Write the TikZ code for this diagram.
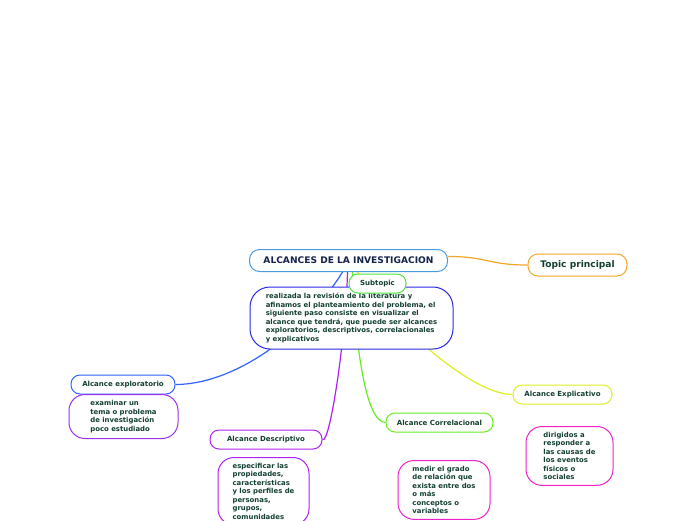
\documentclass[tikz,border=0pt]{standalone}
\usepackage{fontspec}
\setmainfont{DejaVu Sans}
\usetikzlibrary{backgrounds}
\definecolor{cink}{HTML}{123F33}
\definecolor{cnavy}{HTML}{14234A}
\definecolor{croot}{HTML}{4A9BE0}
\definecolor{corange}{HTML}{F5A52A}
\definecolor{cgreen}{HTML}{4CE63A}
\definecolor{cblue}{HTML}{2828E8}
\definecolor{cbranch}{HTML}{2F62FF}
\definecolor{cpurple}{HTML}{9B30F0}
\definecolor{cviolet}{HTML}{B020F0}
\definecolor{clime}{HTML}{66EE22}
\definecolor{cyellow}{HTML}{DDEE22}
\definecolor{cpink}{HTML}{EE22CC}
\tikzset{
  every picture/.style={line width=1pt},
  topicbox/.style={draw=#1, fill=white, rounded corners=10pt, text=cink, font=\bfseries\fontsize{9.1}{10}\selectfont, minimum height=22pt, inner sep=0pt},
  branch/.style={draw=#1, fill=white, rounded corners=9pt, text=cink, font=\bfseries\fontsize{7}{8}\selectfont, minimum height=19pt, inner sep=0pt},
  note/.style={draw=#1, fill=white, rounded corners=16pt, text=cink, font=\bfseries\fontsize{6.9}{8.5}\selectfont, align=left, anchor=north, inner xsep=0pt, inner ysep=5.5pt},
  link/.style={draw=#1, line width=1.2pt},
}
\begin{document}
\begin{tikzpicture}[x=1pt, y=-1pt]
  \useasboundingbox (0,0) rectangle (696,520);
  \begin{scope}[on background layer]
    \fill[white] (0,0) rectangle (696,520);
  \end{scope}
  \node[topicbox=croot, text=cnavy, minimum width=198pt] (root) at (348.5,260.5) {ALCANCES DE LA INVESTIGACION};
  \node[topicbox=corange, minimum width=99pt] (topic) at (577.5,265) {Topic principal};
  \node[note=cblue, rounded corners=20pt, minimum width=203pt, minimum height=62pt, anchor=center] (intro) at (351.5,318)
    {realizada la revisión de la literatura y\\afinamos el planteamiento del problema, el\\siguiente paso consiste en visualizar el\\alcance que tendrá, que puede ser alcances\\exploratorios, descriptivos, correlacionales\\y explicativos};
  \node[branch=cgreen, minimum width=57pt] (sub) at (377.5,283.5) {Subtopic};
  \node[branch=cbranch, minimum width=104pt] (explo) at (123,384.5) {Alcance exploratorio};
  \node[note=cpurple, minimum width=109pt, minimum height=44pt] (explonote) at (123.5,394)
    {examinar un\\tema o problema\\de investigación\\poco estudiado};
  \node[branch=cviolet, minimum width=112pt] (desc) at (266,439.5) {Alcance Descriptivo};
  \node[note=cviolet, minimum width=91pt] (descnote) at (263.5,457)
    {especificar las\\propiedades,\\características\\y los perfiles de\\personas,\\grupos,\\comunidades};
  \node[branch=clime, minimum width=107pt] (corr) at (439.5,422.5) {Alcance Correlacional};
  \node[note=cpink, minimum width=92pt] (corrnote) at (444,460)
    {medir el grado\\de relación que\\exista entre dos\\o más\\conceptos o\\variables};
  \node[branch=cyellow, minimum width=99pt] (expli) at (562.5,394.5) {Alcance Explicativo};
  \node[note=cpink, minimum width=87pt] (explinote) at (569.5,426)
    {dirigidos a\\responder a\\las causas de\\los eventos\\físicos o\\sociales};
  \begin{scope}[on background layer]
    \draw[link=corange] ([yshift=4pt]root.east) .. controls +(40,0) and +(-40,0) .. (topic.west);
    \draw[link=cbranch] ([xshift=-6pt]root.south) .. controls (300,340) and (230,384.5) .. (explo.east);
    \draw[link=cviolet] ([xshift=-1pt]root.south) .. controls (346,335) and (330,445) .. (desc.east);
    \draw[link=clime] ([xshift=4pt]root.south) .. controls (355,340) and (365,422.5) .. (corr.west);
    \draw[link=cyellow] ([xshift=9pt]root.south) .. controls (390,320) and (470,394.5) .. (expli.west);
  \end{scope}
\end{tikzpicture}
\end{document}
